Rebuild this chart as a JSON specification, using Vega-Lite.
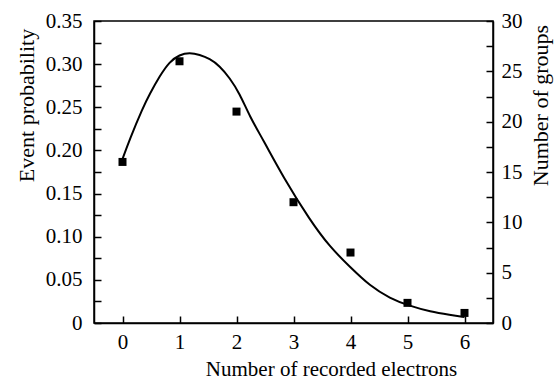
{
  "$schema": "https://vega.github.io/schema/vega-lite/v6.json",
  "width": 399,
  "height": 302,
  "autosize": "none",
  "padding": {"left": 94, "top": 21, "right": 64, "bottom": 58},
  "background": "white",
  "config": {
    "font": "Liberation Serif",
    "view": {"stroke": "black", "strokeWidth": 1.5},
    "axis": {
      "domainColor": "black", "domainWidth": 1.5,
      "tickColor": "black", "tickWidth": 1.5, "tickSize": -7,
      "labelFont": "Liberation Serif", "labelFontSize": 21, "labelColor": "black",
      "titleFont": "Liberation Serif", "titleFontSize": 22, "titleFontWeight": "normal", "titleColor": "black",
      "grid": false
    }
  },
  "layer": [
    {
      "data": {"values": [
        {"n": 0, "p": 0.190}, {"n": 0.12, "p": 0.212}, {"n": 0.36, "p": 0.250}, {"n": 0.474, "p": 0.265},
        {"n": 0.65, "p": 0.286}, {"n": 0.826, "p": 0.303}, {"n": 1.0, "p": 0.311}, {"n": 1.178, "p": 0.3133},
        {"n": 1.353, "p": 0.311}, {"n": 1.529, "p": 0.3063}, {"n": 1.705, "p": 0.298}, {"n": 1.88, "p": 0.284},
        {"n": 2.056, "p": 0.266}, {"n": 2.23, "p": 0.2395}, {"n": 2.47, "p": 0.212}, {"n": 2.82, "p": 0.169},
        {"n": 3.29, "p": 0.119}, {"n": 3.64, "p": 0.088}, {"n": 3.99, "p": 0.065}, {"n": 4.34, "p": 0.043},
        {"n": 4.69, "p": 0.0286}, {"n": 5.04, "p": 0.0197}, {"n": 5.40, "p": 0.0131}, {"n": 5.75, "p": 0.0093},
        {"n": 6.0, "p": 0.0068}
      ]},
      "mark": {"type": "line", "interpolate": "basis", "color": "black", "strokeWidth": 2},
      "encoding": {
        "x": {"field": "n", "type": "quantitative", "scale": {"domain": [-0.5, 6.5], "nice": false},
          "axis": {"title": "Number of recorded electrons", "values": [0, 0.5, 1, 1.5, 2, 2.5, 3, 3.5, 4, 4.5, 5, 5.5, 6],
            "labelExpr": "datum.value % 1 == 0 ? format(datum.value, 'd') : ''", "labelPadding": 15,
            "labelFont": "Liberation Serif", "titleFont": "Liberation Serif", "titleFontSize": 21,
            "titleX": 237, "titleY": 52, "titleBaseline": "alphabetic"}},
        "y": {"field": "p", "type": "quantitative", "scale": {"domain": [0, 0.35], "nice": false},
          "axis": {"title": "Event probability", "orient": "left",
            "values": [0, 0.025, 0.05, 0.075, 0.1, 0.125, 0.15, 0.175, 0.2, 0.225, 0.25, 0.275, 0.3, 0.325, 0.35],
            "labelExpr": "abs(datum.value*20 - round(datum.value*20)) < 0.001 ? (datum.value == 0 ? '0' : format(datum.value, '.2f')) : ''",
            "labelPadding": 19, "labelFont": "Liberation Serif", "titleFont": "Liberation Serif",
            "titleX": -68, "titleY": 84, "titleAngle": -90, "titleAlign": "center", "titleBaseline": "middle"}}
      }
    },
    {
      "data": {"values": [
        {"n": 0, "groups": 16}, {"n": 1, "groups": 26}, {"n": 2, "groups": 21}, {"n": 3, "groups": 12},
        {"n": 4, "groups": 7}, {"n": 5, "groups": 2}, {"n": 6, "groups": 1}
      ]},
      "mark": {"type": "square", "size": 64, "color": "black", "opacity": 1, "filled": true},
      "encoding": {
        "x": {"field": "n", "type": "quantitative"},
        "y": {"field": "groups", "type": "quantitative", "scale": {"domain": [0, 30], "nice": false},
          "axis": {"title": "Number of groups", "orient": "right",
            "values": [0, 2.5, 5, 7.5, 10, 12.5, 15, 17.5, 20, 22.5, 25, 27.5, 30],
            "labelExpr": "datum.value % 5 == 0 ? format(datum.value, 'd') : ''", "labelPadding": 15,
            "labelFont": "Liberation Serif", "titleFont": "Liberation Serif",
            "titleX": 47, "titleY": 84, "titleAngle": -90, "titleAlign": "center", "titleBaseline": "middle"}}
      }
    }
  ],
  "resolve": {"scale": {"y": "independent"}}
}
